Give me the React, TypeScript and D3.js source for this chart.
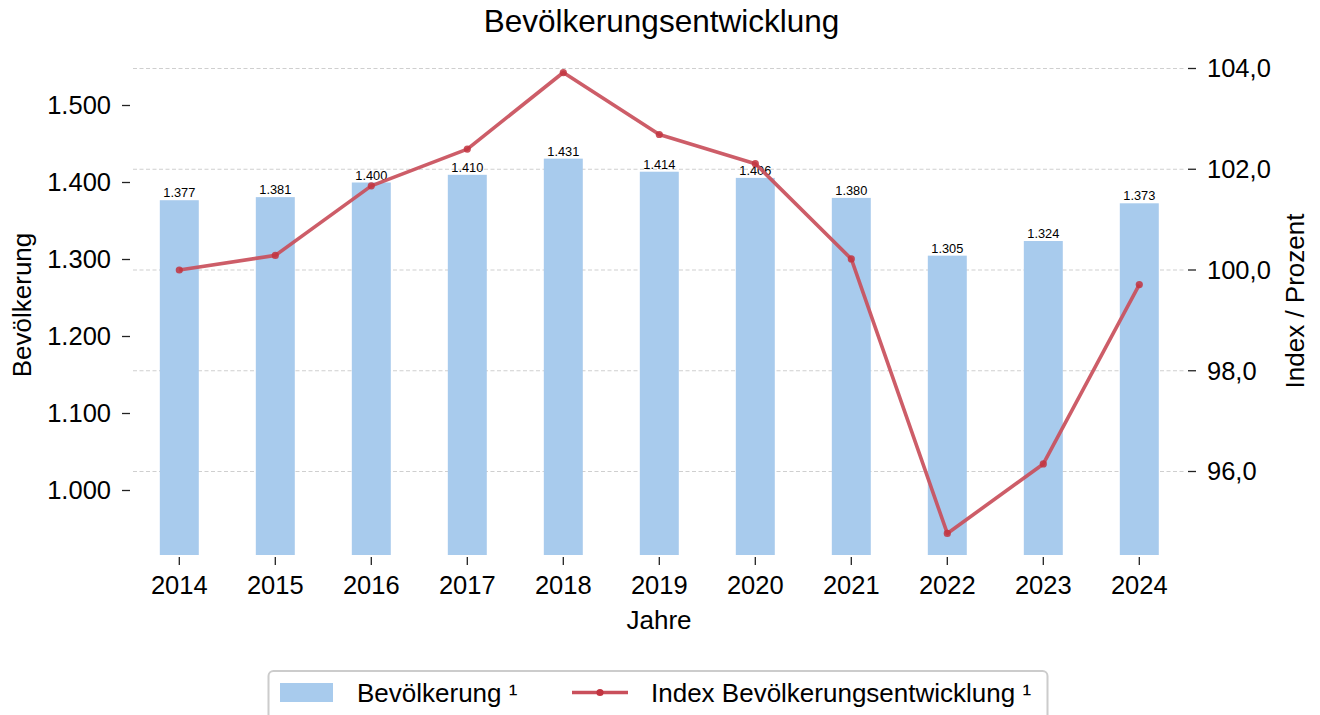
import React from "react";
import * as d3 from "d3";

const years = ["2014", "2015", "2016", "2017", "2018", "2019", "2020", "2021", "2022", "2023", "2024"];
const population = [1377, 1381, 1400, 1410, 1431, 1414, 1406, 1380, 1305, 1324, 1373];
const indexValues = [100.0, 100.29, 101.67, 102.4, 103.92, 102.69, 102.11, 100.22, 94.77, 96.15, 99.71];
const leftTicks = [1000, 1100, 1200, 1300, 1400, 1500];
const rightTicks = [96, 98, 100, 102, 104];

const W = 1320;
const H = 715;
const plotLeft = 131.3;
const plotRight = 1187.3;
const plotBottom = 555;
const FONT = "'Liberation Sans', Arial, Helvetica, sans-serif";

const fmtPop = (v: number) => {
  const s = String(Math.round(v));
  return s.length > 3 ? s.slice(0, s.length - 3) + "." + s.slice(s.length - 3) : s;
};
const fmtIdx = (v: number) => v.toFixed(1).replace(".", ",");

export default function App() {
  const x = d3
    .scaleBand<string>()
    .domain(years)
    .range([plotLeft, plotRight])
    .paddingInner(0.594)
    .paddingOuter(0.297);
  const yL = d3.scaleLinear().domain([1000, 1500]).range([490.5, 105.5]);
  const yR = d3.scaleLinear().domain([100, 104]).range([270, 68.5]);

  const cx = (y: string) => (x(y) as number) + x.bandwidth() / 2;
  const line = d3
    .line<number>()
    .x((_, i) => cx(years[i]))
    .y((d) => yR(d));

  const lineColor = "#c94f5b";
  const dotColor = "#c23440";
  const barColor = "#a8cbed";
  const tickFs = 25.5;

  return (
    <svg width={W} height={H} style={{ position: "absolute", left: 0, top: 0, background: "#fff" }} fontFamily={FONT}>
      <rect x={0} y={0} width={W} height={H} fill="#fff" />
      <text x={661.5} y={32} textAnchor="middle" fontSize={31.5} fill="#000">
        Bevölkerungsentwicklung
      </text>

      {/* gridlines (right axis) */}
      {rightTicks.map((t) => (
        <line
          key={"g" + t}
          x1={133}
          x2={1185}
          y1={yR(t)}
          y2={yR(t)}
          stroke="#cfcfcf"
          strokeWidth={1}
          strokeDasharray="4,2.5"
        />
      ))}

      {/* bars */}
      {years.map((yr, i) => (
        <rect
          key={"b" + yr}
          x={x(yr)}
          y={yL(population[i])}
          width={x.bandwidth()}
          height={plotBottom - yL(population[i])}
          fill={barColor}
        />
      ))}
      {years.map((yr, i) => (
        <text
          key={"bl" + yr}
          x={cx(yr)}
          y={yL(population[i]) - 3}
          textAnchor="middle"
          fontSize={12.8}
          fill="#000"
        >
          {fmtPop(population[i])}
        </text>
      ))}

      {/* line */}
      <path d={line(indexValues) || ""} fill="none" stroke={lineColor} strokeWidth={3.6} strokeOpacity={0.92} strokeLinejoin="round" />
      {indexValues.map((v, i) => (
        <circle key={"c" + i} cx={cx(years[i])} cy={yR(v)} r={3.6} fill={dotColor} fillOpacity={0.85} />
      ))}

      {/* left axis */}
      {leftTicks.map((t) => (
        <g key={"l" + t}>
          <line x1={122} x2={130} y1={yL(t)} y2={yL(t)} stroke="#222" strokeWidth={1.3} />
          <text x={111} y={yL(t)} dy="0.35em" textAnchor="end" fontSize={tickFs} fill="#000">
            {fmtPop(t)}
          </text>
        </g>
      ))}
      <text
        transform={`translate(31,${305}) rotate(-90)`}
        textAnchor="middle"
        fontSize={26}
        fill="#000"
      >
        Bevölkerung
      </text>

      {/* right axis */}
      {rightTicks.map((t) => (
        <g key={"r" + t}>
          <line x1={1188} x2={1196} y1={yR(t)} y2={yR(t)} stroke="#222" strokeWidth={1.3} />
          <text x={1207} y={yR(t)} dy="0.35em" textAnchor="start" fontSize={tickFs} fill="#000">
            {fmtIdx(t)}
          </text>
        </g>
      ))}
      <text
        transform={`translate(1304,${301}) rotate(-90)`}
        textAnchor="middle"
        fontSize={26}
        fill="#000"
      >
        Index / Prozent
      </text>

      {/* x axis */}
      {years.map((yr) => (
        <g key={"x" + yr}>
          <line x1={cx(yr)} x2={cx(yr)} y1={557} y2={565} stroke="#222" strokeWidth={1.3} />
          <text x={cx(yr)} y={594} textAnchor="middle" fontSize={tickFs} fill="#000">
            {yr}
          </text>
        </g>
      ))}
      <text x={659} y={629} textAnchor="middle" fontSize={26} fill="#000">
        Jahre
      </text>

      {/* legend */}
      <rect x={268.5} y={671} width={779} height={60} rx={5} fill="#fff" stroke="#cccccc" strokeWidth={2} />
      <rect x={280} y={683} width={53} height={19} fill={barColor} />
      <text x={357} y={693} dy="0.35em" fontSize={26} fill="#000">
        Bevölkerung ¹
      </text>
      <line x1={572} x2={628} y1={692.5} y2={692.5} stroke={lineColor} strokeWidth={3.6} />
      <circle cx={600} cy={692.5} r={3.6} fill={dotColor} />
      <text x={651} y={693} dy="0.35em" fontSize={26} fill="#000">
        Index Bevölkerungsentwicklung ¹
      </text>
    </svg>
  );
}
